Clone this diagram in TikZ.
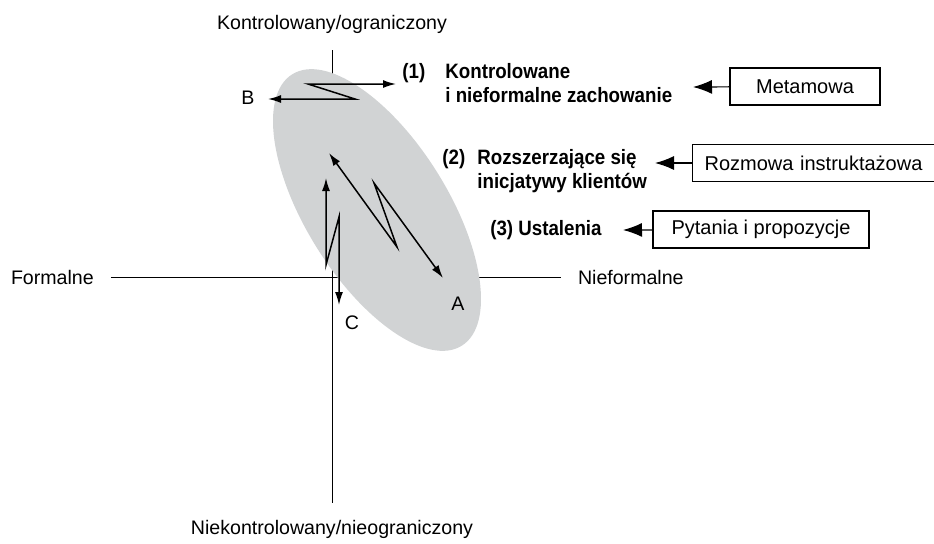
\documentclass[tikz,border=0pt]{standalone}
\usepackage{fontspec}
\setmainfont{Liberation Sans}
\newfontfamily\itemfont[FakeStretch=0.9]{Liberation Sans}
\usetikzlibrary{arrows.meta}
\definecolor{ovalgray}{RGB}{209,211,212}
\tikzset{x=0.5pt, y=-0.5pt,
    axislabel/.style={
        font=\fontsize{9.8}{12}\selectfont,
        inner sep=0pt,
        outer sep=8.5pt},
    letter/.style={
        font=\fontsize{9.8}{12}\selectfont,
        inner sep=0pt},
    itemtext/.style={
        font=\itemfont\bfseries\fontsize{10.4}{12.25}\selectfont,
        align=left,
        inner sep=0pt},
    sourcebox/.style={
        draw,
        line width=0.6pt,
        font=\fontsize{10}{12}\selectfont,
        minimum height=18.5pt},
    zigzag/.style={
        <->,>={Latex[length=6.5pt,width=4pt]},
        line width=0.75pt},
    pointer/.style={
        ->,>={Latex[length=9.5pt,width=7pt]},
        line width=0.6pt}}

\begin{document}
\begin{tikzpicture}
    \useasboundingbox (0,0) rectangle (934,543);

    % axes
    \node[axislabel] (ctrl) at (332,24) {Kontrolowany/ograniczony};
    \node[axislabel] (unctrl) at (332,529.5) {Niekontrolowany/nieograniczony};
    \node[axislabel, anchor=west] (formal) at (-6,277) {Formalne};
    \node[axislabel, anchor=west] (informal) at (561,277) {Nieformalne};
    \draw[line width=0.5pt] (ctrl) -- (unctrl);
    \draw[line width=0.5pt] (formal) -- (informal);

    \fill[ovalgray, rotate around={-58:(377,210)}] (377,210) ellipse [x radius=80pt, y radius=35.5pt];

    \node[letter] (B) at (248,98) {B};
    \node[letter] (A) at (458,304) {A};
    \node[letter] (C) at (352,323) {C};

    \coordinate (b1) at (396,84);
    \coordinate (b2) at (308,84);
    \coordinate (b3) at (355,99);
    \coordinate (b4) at (268,99);
    \coordinate (a1) at (329,153);
    \coordinate (a2) at (397,247);
    \coordinate (a3) at (374,183);
    \coordinate (a4) at (443,278);
    \coordinate (c1) at (326,178);
    \coordinate (c2) at (326,265);
    \coordinate (c3) at (339,217);
    \coordinate (c4) at (339,305);
    \draw[zigzag] (b1) -- (b2) -- (b3) -- (b4);
    \draw[zigzag] (a1) -- (a2) -- (a3) -- (a4);
    \draw[zigzag] (c1) -- (c2) -- (c3) -- (c4);

    % stages
    \node[itemtext, anchor=base west] (n1) at (402,78) {(1)};
    \node[itemtext, anchor=north west] (t1) at (445,63) {Kontrolowane\\i nieformalne zachowanie};
    \node[itemtext, anchor=base west] (n2) at (442,164) {(2)};
    \node[itemtext, anchor=north west] (t2) at (477,149) {Rozszerzające się\\inicjatywy klientów};
    \node[itemtext, anchor=east] (t3) at (602,230) {(3) Ustalenia};

    \node[sourcebox, minimum width=75pt] (meta) at (805,86.5) {Metamowa};
    \node[sourcebox, anchor=west, text width=130pt, align=left, inner xsep=6pt] (coach) at (692,163) {Rozmowa instruktażowa};
    \node[sourcebox, minimum width=108pt] (quest) at (761,229.5) {Pytania i propozycje};

    \coordinate (tip1) at (693,87);
    \coordinate (tip2) at (655,163);
    \coordinate (tip3) at (623,230);
    \draw[pointer] (meta) -- (tip1);
    \draw[pointer] (coach) -- (tip2);
    \draw[pointer] (quest) -- (tip3);
\end{tikzpicture}
\end{document}
